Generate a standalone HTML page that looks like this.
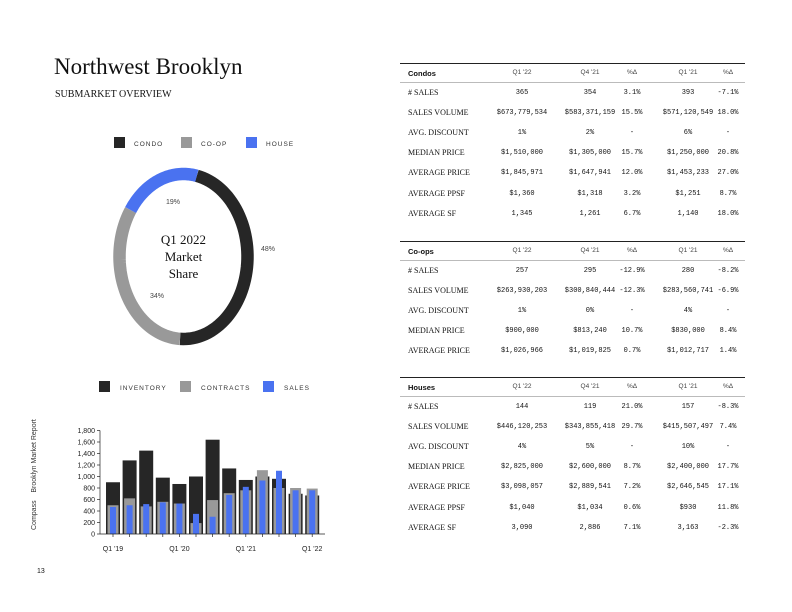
<!DOCTYPE html>
<html><head><meta charset="utf-8"><style>
body{margin:0;width:792px;height:612px;background:#fff;position:relative;overflow:hidden;font-family:"Liberation Serif",serif;color:#111}
.a{position:absolute;white-space:nowrap}
.tbl{position:absolute;left:400px;width:345px}
.row{position:absolute;left:0;width:345px;height:16px;font-size:8px}
.row span{position:absolute;top:0}
.lbl{left:8px;font-family:"Liberation Serif",serif;font-size:8px}
.num{font-family:"Liberation Mono",monospace;font-size:7px;transform:translateX(-50%);top:1px!important}
.hd span{font-family:"Liberation Sans",sans-serif;font-size:6.5px;color:#444}
.hd .lbl{font-weight:bold;color:#111;font-size:7.5px;font-family:"Liberation Sans",sans-serif}
.line{position:absolute;left:0;width:345px;height:1px;background:#bbb}
.line.top{background:#222}
</style></head><body>
<div class="a" style="left:54px;top:54px;font-size:23px">Northwest Brooklyn</div>
<div class="a" style="left:55px;top:89px;font-size:10px">SUBMARKET OVERVIEW</div>
<div class="a" style="left:31px;top:530px;transform:rotate(-90deg);transform-origin:0 0;font-family:'Liberation Sans',sans-serif;font-size:7px;color:#333">Compass &nbsp;&nbsp; Brooklyn Market Report</div>
<div class="a" style="left:37px;top:568px;font-family:'Liberation Sans',sans-serif;font-size:7px">13</div>

<svg class="a" style="left:0;top:0" width="400" height="612">
<g id="donut"></g>
<g id="bars"></g>
</svg>

<div id="tables"></div>

<script>
const NS="http://www.w3.org/2000/svg";
function mk(tag,attrs,parent){const e=document.createElementNS(NS,tag);for(const k in attrs)e.setAttribute(k,attrs[k]);parent.appendChild(e);return e;}

// Donut data
const shareLabels=["CONDO","CO-OP","HOUSE"];
const shareValues=[48,34,19];
const shareColors=["#262626","#999999","#4a72f0"];

// Bar data
const quarters=["Q1 '19","Q2 '19","Q3 '19","Q4 '19","Q1 '20","Q2 '20","Q3 '20","Q4 '20","Q1 '21","Q2 '21","Q3 '21","Q4 '21","Q1 '22"];
const inventory=[900,1280,1450,980,870,1000,1640,1140,940,1000,960,700,670];
const contracts=[500,620,480,560,530,190,590,710,760,1110,800,800,790];
const sales=[470,500,520,550,530,350,300,680,820,930,1100,760,760];
const yTicks=[0,200,400,600,800,1000,1200,1400,1600,1800];
const xLabels=["Q1 '19","Q1 '20","Q1 '21","Q1 '22"];
const legendLabels=["INVENTORY","CONTRACTS","SALES"];

// Donut (elliptical as in reference)
const dg=document.getElementById('donut');
const cx=183.5,cy=256.5,rx=64,ry=82.5,sw=12.5,off=12*Math.PI/180;
let total=shareValues.reduce((a,b)=>a+b,0),acc=0;
function ringPath(a0,a1,rX,rY){let d='';const n=60;for(let k=0;k<=n;k++){const a=a0+(a1-a0)*k/n;d+=(k?'L':'M')+(cx+rX*Math.sin(a)).toFixed(2)+','+(cy-rY*Math.cos(a)).toFixed(2);}return d;}
const lblPos=[[268,251],[157,298],[173,204]];
shareValues.forEach((v,i)=>{
 const a0=off+acc/total*2*Math.PI,a1=off+(acc+v)/total*2*Math.PI;acc+=v;
 const p=mk('path',{d:ringPath(a0,a1,rx,ry),fill:'none',stroke:shareColors[i],'stroke-width':sw},dg);
 
 
 const t=mk('text',{x:lblPos[i][0],y:lblPos[i][1],'font-size':7,'font-family':'Liberation Sans,sans-serif','text-anchor':'middle',fill:'#444'},dg);
 t.textContent=v+'%';
 
 
 const lx=[114,181,246][i];
 const sq=mk('rect',{x:lx,y:137,width:11,height:11,fill:shareColors[i]},dg);
 
 
 const lt=mk('text',{x:lx+20,y:146,'font-size':6.5,'font-family':'Liberation Sans,sans-serif','letter-spacing':1,fill:'#333'},dg);
 lt.textContent=shareLabels[i];
 
 
});
["Q1 2022","Market","Share"].forEach((s,i)=>{
 const t=mk('text',{x:cx,y:244+i*17,'font-size':13,'font-family':'Liberation Serif,serif','text-anchor':'middle',fill:'#111'},dg);
 t.textContent=s;
 
 
});

// Bars
const bg=document.getElementById('bars');
const y0px=534,yTop=430.5,yMax=1800,xStart=113,step=16.6,axL=100,axR=325;
const yS=v=>y0px-(v/yMax)*(y0px-yTop);
const xS=i=>xStart+i*step;
yTicks.forEach(v=>{
 const t=mk('text',{x:95,y:yS(v)+2.5,'font-size':7,'font-family':'Liberation Sans,sans-serif','text-anchor':'end',fill:'#222'},bg);
 t.textContent=v.toLocaleString('en-US');
 
 
 mk('line',{x1:97,x2:axL,y1:yS(v),y2:yS(v),stroke:'#222','stroke-width':0.7},bg);
});
mk('line',{x1:axL,x2:axL,y1:yTop,y2:y0px,stroke:'#222','stroke-width':0.7},bg);
quarters.forEach((q,i)=>{
 const x=xS(i);
 let b=mk('rect',{x:x-7,y:yS(inventory[i]),width:14,height:y0px-yS(inventory[i]),fill:'#262626'},bg);
 
 
 b=mk('rect',{x:x-5.5,y:yS(contracts[i]),width:11,height:y0px-yS(contracts[i]),fill:'#999'},bg);
 
 
 b=mk('rect',{x:x-3,y:yS(sales[i]),width:6,height:y0px-yS(sales[i]),fill:'#4a72f0'},bg);
 
 
 mk('line',{x1:x,x2:x,y1:y0px,y2:y0px+3,stroke:'#222','stroke-width':0.7},bg);
 if(xLabels.includes(q)){
  const t=mk('text',{x:x,y:551,'font-size':7,'font-family':'Liberation Sans,sans-serif','text-anchor':'middle',fill:'#222'},bg);
  t.textContent=q;
  
  
 }
});
mk('line',{x1:axL,x2:axR,y1:y0px,y2:y0px,stroke:'#222','stroke-width':0.8},bg);
legendLabels.forEach((s,i)=>{
 const lx=[99,180,263][i];
 const sq=mk('rect',{x:lx,y:381,width:11,height:11,fill:shareColors[i]},bg);
 
 
 const t=mk('text',{x:lx+21,y:390,'font-size':6.5,'font-family':'Liberation Sans,sans-serif','letter-spacing':1,fill:'#333'},bg);
 t.textContent=s;
 
 
});

// Tables
const colX=[522,590,632,688,728];
const headCols=["Q1 '22","Q4 '21","%Δ","Q1 '21","%Δ"];
const tables=[
 {name:"Condos",hy:73,rows:[
  ["# SALES","365","354","3.1%","393","-7.1%"],
  ["SALES VOLUME","$673,779,534","$583,371,159","15.5%","$571,120,549","18.0%"],
  ["AVG. DISCOUNT","1%","2%","-","6%","-"],
  ["MEDIAN PRICE","$1,510,000","$1,305,000","15.7%","$1,250,000","20.8%"],
  ["AVERAGE PRICE","$1,845,971","$1,647,941","12.0%","$1,453,233","27.0%"],
  ["AVERAGE PPSF","$1,360","$1,318","3.2%","$1,251","8.7%"],
  ["AVERAGE SF","1,345","1,261","6.7%","1,140","18.0%"]]},
 {name:"Co-ops",hy:251,rows:[
  ["# SALES","257","295","-12.9%","280","-8.2%"],
  ["SALES VOLUME","$263,930,203","$300,840,444","-12.3%","$283,560,741","-6.9%"],
  ["AVG. DISCOUNT","1%","0%","-","4%","-"],
  ["MEDIAN PRICE","$900,000","$813,240","10.7%","$830,000","8.4%"],
  ["AVERAGE PRICE","$1,026,966","$1,019,825","0.7%","$1,012,717","1.4%"]]},
 {name:"Houses",hy:387,rows:[
  ["# SALES","144","119","21.0%","157","-8.3%"],
  ["SALES VOLUME","$446,120,253","$343,855,418","29.7%","$415,507,497","7.4%"],
  ["AVG. DISCOUNT","4%","5%","-","10%","-"],
  ["MEDIAN PRICE","$2,825,000","$2,600,000","8.7%","$2,400,000","17.7%"],
  ["AVERAGE PRICE","$3,098,057","$2,889,541","7.2%","$2,646,545","17.1%"],
  ["AVERAGE PPSF","$1,040","$1,034","0.6%","$930","11.8%"],
  ["AVERAGE SF","3,090","2,886","7.1%","3,163","-2.3%"]]}
];
let html='';
tables.forEach(t=>{
 const key=t.name.toLowerCase();
 html+=`<div class="tbl" style="top:0">`;
 html+=`<div class="line top" style="top:${t.hy-10}px"></div><div class="line" style="top:${t.hy+9}px"></div>`;
 html+=`<div class="row hd" style="top:${t.hy-4}px"><span class="lbl">${t.name}</span>`;
 headCols.forEach((h,i)=>{html+=`<span style="left:${colX[i]-400}px;transform:translateX(-50%)">${h}</span>`});
 html+=`</div>`;
 t.rows.forEach((r,ri)=>{
  html+=`<div class="row" style="top:${t.hy+15+ri*20.1}px"><span class="lbl">${r[0]}</span>`;
  for(let c=1;c<6;c++)html+=`<span class="num" style="left:${colX[c-1]-400}px">${r[c]}</span>`;
  html+=`</div>`;
 });
 html+=`</div>`;
});
document.getElementById('tables').innerHTML=html;
</script>
</body></html>
